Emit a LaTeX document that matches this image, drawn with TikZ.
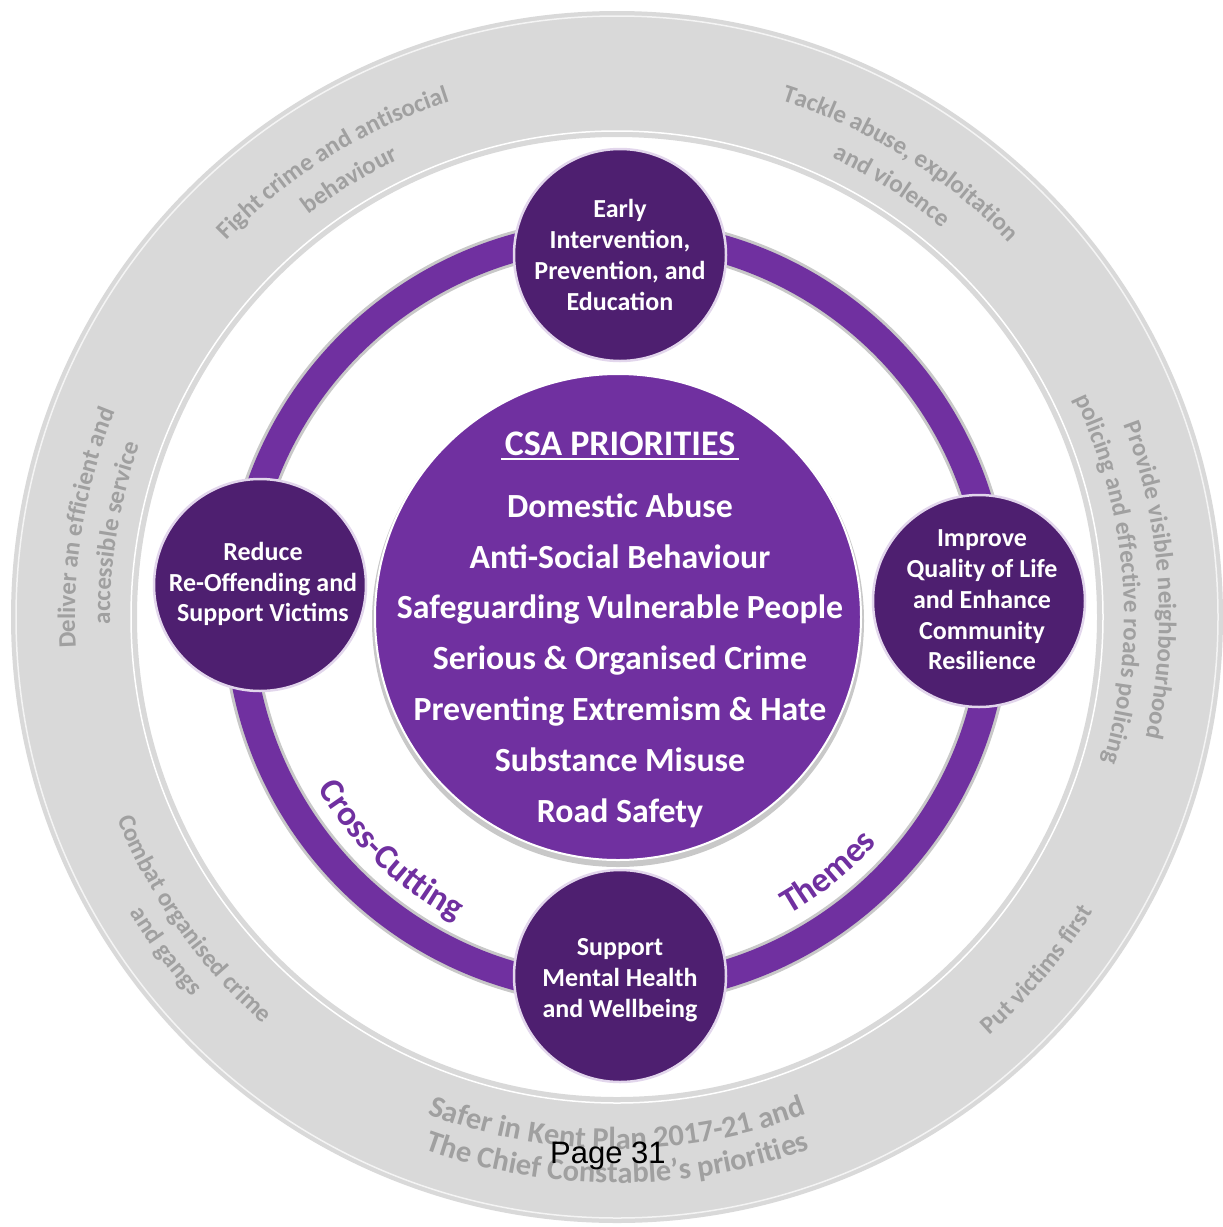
\documentclass[tikz,border=0pt]{standalone}
\usepackage{fontspec}
\setmainfont{Carlito}
\newfontfamily\arialfont{Liberation Sans}
\usetikzlibrary{decorations.text}
\definecolor{ringgray}{HTML}{D9D9D9}
\definecolor{txtgray}{HTML}{A0A0A0}
\definecolor{cpurple}{HTML}{7030A0}
\definecolor{dpurple}{HTML}{4E1F70}
\definecolor{rimgray}{HTML}{C8C8C8}
\newcommand{\gfont}{\fontsize{25}{30}\selectfont\bfseries\color{txtgray}}
\newcommand{\gbigfont}{\fontsize{30.5}{36}\selectfont\bfseries\color{txtgray}}
\newcommand{\pfont}{\fontsize{35}{40}\selectfont\bfseries\color{cpurple}}
\begin{document}
\begin{tikzpicture}[x=1pt,y=1pt,
  smallc/.style={circle, fill=dpurple, draw=white!80!cpurple, line width=2.5pt, minimum size=212pt, inner sep=0pt},
  smalltext/.style={text=white, align=center, font=\fontsize{26}{30.7}\selectfont\bfseries},
  ctext/.style={text=white, anchor=base, font=\fontsize{33.8}{38}\selectfont\bfseries},
  ringtxt/.style={decorate, decoration={text along path, text align=center, text={#1}}}
]
\useasboundingbox (0,0) rectangle (1223,-1227);
\fill[white] (0,0) rectangle (1223,-1227);
\coordinate (G) at (617,-617);
\coordinate (R) at (617,-612);
% outer grey ring
\fill[ringgray, even odd rule] (G) circle[radius=606pt] (G) circle[radius=480pt];
\draw[white, line width=1.5pt] (G) circle[radius=486pt];
\draw[white!70!ringgray, line width=1.5pt] (G) circle[radius=601pt];
% purple ring
\draw[rimgray, line width=34pt] (R) circle[radius=378pt];
\draw[cpurple, line width=28pt] (R) circle[radius=378pt];
% centre circle
\fill[rimgray] (618,-621) circle[radius=246pt];
\node[circle, fill=cpurple, draw=white, line width=2pt, minimum size=486pt, inner sep=0pt] (centre) at (618,-617) {};
% small circles
\node[smallc] (early) at (620,-255) {};
\node[smallc] (reduce) at (260,-585) {};
\node[smallc] (improve) at (979,-601) {};
\node[smallc] (support) at (620,-976) {};
\node[smalltext] (earlyT) at (620,-255) {Early\\Intervention,\\Prevention, and\\Education};
\node[smalltext] (reduceT) at (263,-584) {Reduce\\Re-Offending and\\Support Victims};
\node[smalltext] (improveT) at (982,-600) {Improve\\Quality of Life\\and Enhance\\Community\\Resilience};
\node[smalltext] (supportT) at (620,-980) {Support\\Mental Health\\and Wellbeing};
% centre text
\node[ctext, font=\fontsize{36}{40}\selectfont\bfseries] (head) at (620,-455) {CSA PRIORITIES};
\draw[white, line width=2.2pt] ([yshift=-4pt]head.base west) -- ([yshift=-4pt]head.base east);
\node[ctext] (p1) at (620,-517) {Domestic Abuse};
\node[ctext] (p2) at (620,-568) {Anti-Social Behaviour};
\node[ctext] (p3) at (620,-618) {Safeguarding Vulnerable People};
\node[ctext] (p4) at (620,-669) {Serious \& Organised Crime};
\node[ctext] (p5) at (620,-720) {Preventing Extremism \& Hate};
\node[ctext] (p6) at (620,-771) {Substance Misuse};
\node[ctext] (p7) at (620,-822) {Road Safety};
% cross-cutting themes
\path[ringtxt={|\pfont|Cross-Cutting}] ([shift={(R)}]186.5:348pt) arc[start angle=186.5, end angle=266.5, radius=348pt];
\path[ringtxt={|\pfont|Themes}] ([shift={(R)}]-91:348pt) arc[start angle=-91, end angle=-11, radius=348pt];
% grey ring texts (clockwise, tops outward)
\path[ringtxt={|\gfont|Fight crime and antisocial}] ([shift={(G)}]162:542pt) arc[start angle=162, end angle=82, radius=542pt];
\path[ringtxt={|\gfont|behaviour}] ([shift={(G)}]161.5:507pt) arc[start angle=161.5, end angle=81.5, radius=507pt];
\path[ringtxt={|\gfont|Tackle abuse, exploitation}] ([shift={(G)}]98:542pt) arc[start angle=98, end angle=18, radius=542pt];
\path[ringtxt={|\gfont|and violence}] ([shift={(G)}]97.5:507pt) arc[start angle=97.5, end angle=17.5, radius=507pt];
\path[ringtxt={|\gfont|Deliver an efficient and}] ([shift={(G)}]210.5:542pt) arc[start angle=210.5, end angle=130.5, radius=542pt];
\path[ringtxt={|\gfont|accessible service}] ([shift={(G)}]210.5:507pt) arc[start angle=210.5, end angle=130.5, radius=507pt];
\path[ringtxt={|\gfont|Provide visible neighbourhood}] ([shift={(G)}]44:542pt) arc[start angle=44, end angle=-36, radius=542pt];
\path[ringtxt={|\gfont|policing and effective roads policing}] ([shift={(G)}]44.5:507pt) arc[start angle=44.5, end angle=-35.5, radius=507pt];
% grey ring texts (counter-clockwise, tops inward)
\path[ringtxt={|\gfont|Combat organised crime}] ([shift={(G)}]175.5:539pt) arc[start angle=175.5, end angle=255.5, radius=539pt];
\path[ringtxt={|\gfont|and gangs}] ([shift={(G)}]176.5:570pt) arc[start angle=176.5, end angle=256.5, radius=570pt];
\path[ringtxt={|\gfont|Put victims first}] ([shift={(G)}]-80:560pt) arc[start angle=-80, end angle=0, radius=560pt];
\path[ringtxt={|\gbigfont|Safer in Kent Plan 2017-21 and}] ([shift={(G)}]230:532pt) arc[start angle=230, end angle=310, radius=532pt];
\path[ringtxt={|\gbigfont|The Chief Constable’s priorities}] ([shift={(G)}]230:566pt) arc[start angle=230, end angle=310, radius=566pt];
% page number
\node[anchor=base west, inner sep=0pt, font=\arialfont\fontsize{31}{31}\selectfont] (page) at (550,-1163) {Page 31};
\end{tikzpicture}
\end{document}
